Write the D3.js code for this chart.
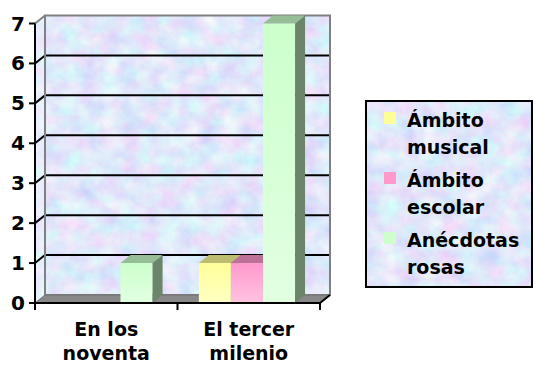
<!DOCTYPE html>
<html>
<head>
<meta charset="utf-8">
<script src="https://cdn.jsdelivr.net/npm/d3@7/dist/d3.min.js"></script>
<style>
  html, body { margin: 0; padding: 0; background: #ffffff; }
  svg { display: block; }
  text { font-family: "DejaVu Sans", Verdana, sans-serif; font-weight: bold; fill: #000; }
</style>
</head>
<body>
<svg id="chart" width="535" height="365"></svg>
<script>
// Categories, series and values of the 3D column chart
const categories = [["En los", "noventa"], ["El tercer", "milenio"]];
const seriesNames = [["Ámbito", "musical"], ["Ámbito", "escolar"], ["Anécdotas", "rosas"]];
const musical = [0, 1];
const escolar = [0, 1];
const anecdotas = [1, 7];
const yTicks = [0, 1, 2, 3, 4, 5, 6, 7];

const seriesValues = [musical, escolar, anecdotas];
const seriesColors = ["#FFFF99", "#FF99CC", "#CCFFCC"];
const seriesLight = ["#FFFFC4", "#FFC4E2", "#E2FFE2"];

const W = 535, H = 365;
const svg = d3.select("#chart");
const defs = svg.append("defs");

// Pastel paper texture
const f = defs.append("filter").attr("id", "paper")
  .attr("filterUnits", "userSpaceOnUse")
  .attr("x", 0).attr("y", 0).attr("width", W).attr("height", H);
f.append("feTurbulence").attr("type", "fractalNoise")
  .attr("baseFrequency", "0.05 0.06").attr("numOctaves", 4).attr("seed", 7);
f.append("feColorMatrix").attr("type", "matrix")
  .attr("values", "0.5 0 0 0 0.5  0 0.45 0 0 0.58  0 0 0 0 0.96  0 0 0 0 1");

// Depth of the 3D box
const dx = 10, dy = -8;
const catKeys = categories.map(c => c.join(" "));
const x = d3.scaleBand().domain(catKeys).range([35, 320]);
const bw = x.bandwidth();
const xs = d3.scaleBand().domain(d3.range(seriesNames.length)).range([bw * 0.15, bw * 0.825]);
const y = d3.scaleLinear().domain([0, 7]).range([303, 23.5]);

const x0 = x.range()[0], x1 = x.range()[1];
const yb = y(0), yt = y(7);

function textured(points, clipId, whiten) {
  defs.append("clipPath").attr("id", clipId)
    .append("polygon").attr("points", points.map(p => p.join(",")).join(" "));
  const g = svg.append("g").attr("clip-path", `url(#${clipId})`);
  g.append("rect").attr("width", W).attr("height", H).attr("filter", "url(#paper)");
  if (whiten) g.append("rect").attr("width", W).attr("height", H).attr("fill", "#fff").attr("opacity", whiten);
  return g;
}

// Back wall and side wall
const backWall = [[x0 + dx, yt + dy], [x1 + dx, yt + dy], [x1 + dx, yb + dy], [x0 + dx, yb + dy]];
const sideWall = [[x0, yt], [x0 + dx, yt + dy], [x0 + dx, yb + dy], [x0, yb]];
textured(backWall, "clipBack", 0);
textured(sideWall, "clipSide", 0.3);

// Gridlines on back wall and side wall
const grid = svg.append("g").attr("stroke", "#000").attr("stroke-width", 2).attr("fill", "none");
yTicks.filter(v => v > 0 && v < 7).forEach(v => {
  grid.append("path").attr("d", `M${x0},${y(v)}L${x0 + dx},${y(v) + dy}H${x1 + dx}`);
});

// Wall borders
svg.append("polygon").attr("points", backWall.map(p => p.join(",")).join(" "))
  .attr("fill", "none").attr("stroke", "#808080").attr("stroke-width", 2);
svg.append("path").attr("d", `M${x0},${yt}L${x0 + dx},${yt + dy}`)
  .attr("stroke", "#808080").attr("stroke-width", 2);

// Floor
const floor = [[x0, yb], [x1, yb], [x1 + dx, yb + dy], [x0 + dx, yb + dy]];
svg.append("polygon").attr("points", floor.map(p => p.join(",")).join(" "))
  .attr("fill", "#888888").attr("stroke", "#707070").attr("stroke-width", 1);

// Gradients for the bar fronts
seriesColors.forEach((c, i) => {
  const lg = defs.append("linearGradient").attr("id", "grad" + i)
    .attr("x1", 0).attr("y1", 0).attr("x2", 0).attr("y2", 1);
  lg.append("stop").attr("offset", "0%").attr("stop-color", c);
  lg.append("stop").attr("offset", "100%").attr("stop-color", seriesLight[i]);
});

function shade(c, k) {
  const r = d3.rgb(c);
  return d3.rgb(r.r * k, r.g * k, r.b * k).formatHex();
}

// Bars
const bars = svg.append("g");
catKeys.forEach((cat, ci) => {
  seriesValues.forEach((vals, si) => {
    const v = vals[ci];
    if (!v) return;
    const bx = x(cat) + xs(si), bwid = xs.bandwidth();
    const top = y(v), bot = y(0);
    const g = bars.append("g");
    g.append("rect").attr("x", bx).attr("y", top).attr("width", bwid).attr("height", bot - top)
      .attr("fill", `url(#grad${si})`);
    g.append("polygon")
      .attr("points", [[bx, top], [bx + dx, top + dy], [bx + bwid + dx, top + dy], [bx + bwid, top]].map(p => p.join(",")).join(" "))
      .attr("fill", shade(seriesColors[si], 0.74));
    g.append("polygon")
      .attr("points", [[bx + bwid, top], [bx + bwid + dx, top + dy], [bx + bwid + dx, bot + dy], [bx + bwid, bot]].map(p => p.join(",")).join(" "))
      .attr("fill", shade(seriesColors[si], 0.52));
  });
});

// Axes
const axes = svg.append("g").attr("stroke", "#000").attr("stroke-width", 2).attr("fill", "none");
axes.append("path").attr("d", `M${x0},${yt}V${yb}H${x1}L${x1 + dx},${yb + dy}`);
yTicks.forEach(v => axes.append("path").attr("d", `M${x0 - 6},${y(v)}H${x0}`));
[x0, x0 + bw, x1].forEach(px => axes.append("path").attr("d", `M${px},${yb}V${yb + 7}`));

// Y tick labels
svg.append("g").selectAll("text").data(yTicks).join("text")
  .attr("x", 25).attr("y", d => y(d) + 7)
  .attr("text-anchor", "end").attr("font-size", 20)
  .text(d => d);

// Category labels
categories.forEach((c, ci) => {
  const t = svg.append("text").attr("text-anchor", "middle").attr("font-size", 19);
  c.forEach((line, li) => {
    t.append("tspan").attr("x", x(catKeys[ci]) + bw / 2).attr("y", 336 + li * 24).text(line);
  });
});

// Legend
const lg = { x: 366, y: 101, w: 166, h: 186 };
textured([[lg.x, lg.y], [lg.x + lg.w, lg.y], [lg.x + lg.w, lg.y + lg.h], [lg.x, lg.y + lg.h]], "clipLegend", 0);
svg.append("rect").attr("x", lg.x).attr("y", lg.y).attr("width", lg.w).attr("height", lg.h)
  .attr("fill", "none").attr("stroke", "#000").attr("stroke-width", 2);

seriesNames.forEach((name, si) => {
  const base = 127 + si * 60;
  svg.append("rect").attr("x", 384).attr("y", base - 15).attr("width", 12).attr("height", 12)
    .attr("fill", seriesColors[si]);
  const t = svg.append("text").attr("font-size", 19);
  name.forEach((line, li) => {
    t.append("tspan").attr("x", 407).attr("y", base + li * 26.5).text(line);
  });
});
</script>
</body>
</html>
